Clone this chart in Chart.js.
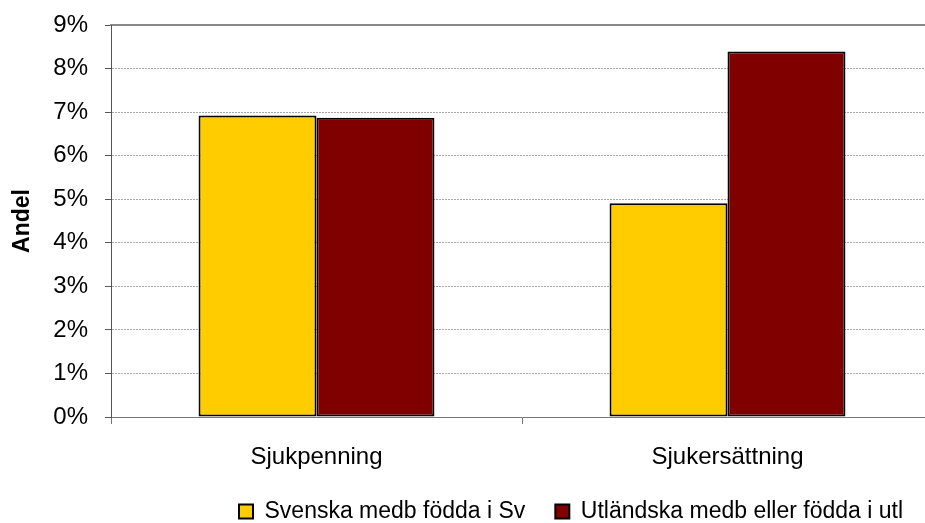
<!DOCTYPE html>
<html>
<head>
<meta charset="utf-8">
<script src="https://cdn.jsdelivr.net/npm/chart.js@4"></script>
<style>
  html, body { margin: 0; padding: 0; background: #fff; overflow: hidden; }
  #wrap { width: 933px; height: 523px; position: relative; }
</style>
</head>
<body>
<div id="wrap"><canvas id="chart"></canvas></div>
<script>
const categories = ['Sjukpenning', 'Sjukersättning'];
const seriesNames = ['Svenska medb födda i Sv', 'Utländska medb eller födda i utl'];
const svenska = [6.92, 4.91];
const utlandska = [6.87, 8.39];
const yTicks = [0, 1, 2, 3, 4, 5, 6, 7, 8, 9];

Chart.defaults.font.family = '"Liberation Sans", Arial, sans-serif';
Chart.defaults.color = '#000';

new Chart(document.getElementById('chart').getContext('2d'), {
  type: 'bar',
  data: {
    labels: categories,
    datasets: [{
      label: seriesNames[0],
      data: svenska,
      backgroundColor: '#FFCC00',
      borderColor: '#000',
      borderWidth: 2,
      borderSkipped: false
    }, {
      label: seriesNames[1],
      data: utlandska,
      backgroundColor: '#800000',
      borderColor: '#000',
      borderWidth: 2,
      borderSkipped: false
    }]
  },
  options: {
    responsive: true,
    maintainAspectRatio: false,
    animation: false,
    layout: { padding: { top: 25, left: 0, right: 0, bottom: -10 } },
    datasets: { bar: { barPercentage: 1, categoryPercentage: 0.574 } },
    plugins: {
      tooltip: { enabled: false },
      legend: {
        position: 'bottom',
        align: 'end',
        labels: {
          boxWidth: 14,
          boxHeight: 14,
          padding: 30,
          font: { size: 23 },
          generateLabels: chart => chart.data.datasets.map((ds, i) => ({
            text: ds.label,
            fillStyle: ds.backgroundColor,
            strokeStyle: '#000',
            lineWidth: 2,
            datasetIndex: i
          }))
        }
      }
    },
    scales: {
      x: {
        grid: { drawOnChartArea: false, offset: true, tickLength: 7, color: '#777' },
        border: { color: '#777', width: 1 },
        ticks: { font: { size: 24 }, padding: 19 },
        afterFit: s => { s.height = 53; }
      },
      x2: {
        type: 'category',
        labels: categories,
        position: 'top',
        grid: { display: false },
        ticks: { display: false },
        border: { color: '#888', width: 2 },
        afterFit: s => { s.height = 0; }
      },
      y: {
        min: 0,
        max: 9,
        afterBuildTicks: s => { s.ticks = yTicks.map(v => ({ value: v })); },
        grid: { tickLength: 6, color: '#a8a8a8', tickColor: '#555' },
        border: { color: '#555', width: 1, dash: [2, 1] },
        ticks: { font: { size: 24 }, padding: 17, callback: v => v + '%' },
        title: { display: true, text: 'Andel', font: { size: 23, weight: 'bold' }, padding: 9 },
        afterFit: s => { s.width = 111; s.paddingTop = 0; s.paddingBottom = 0; }
      }
    }
  }
});
</script>
</body>
</html>
